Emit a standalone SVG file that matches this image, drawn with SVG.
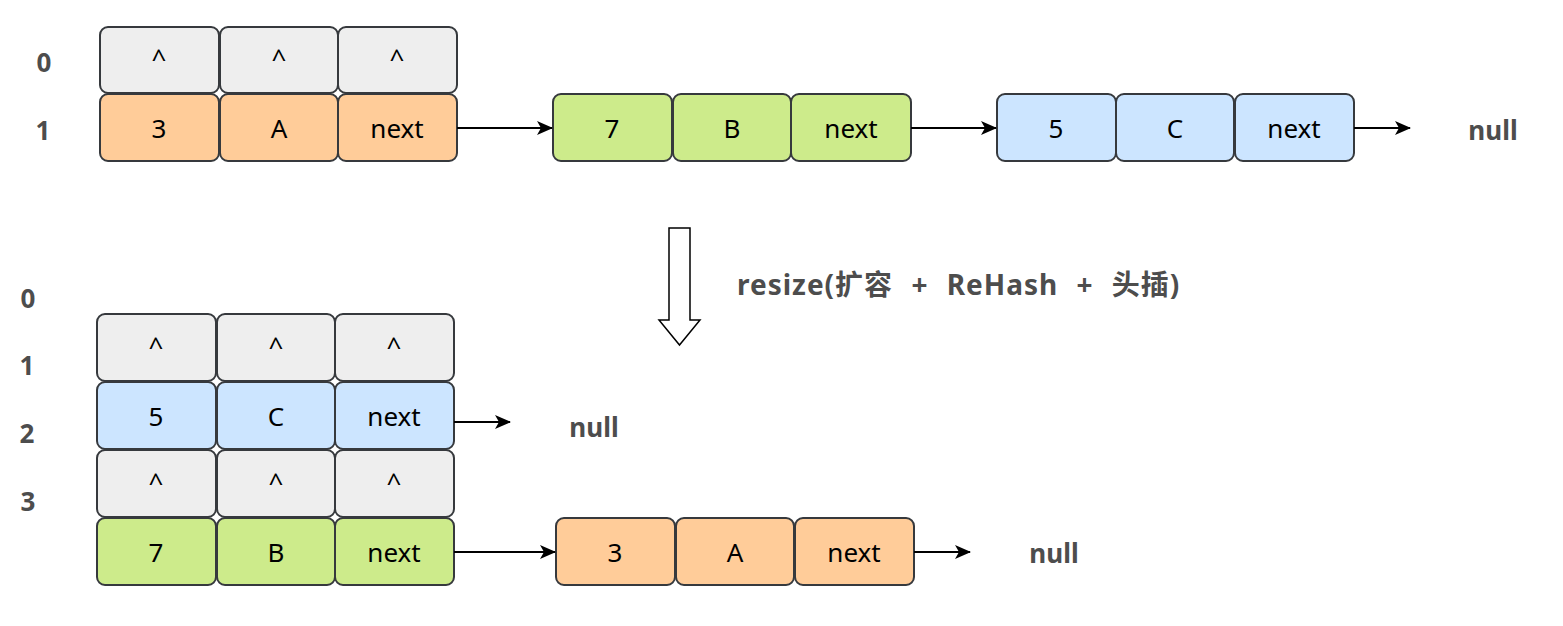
<svg xmlns="http://www.w3.org/2000/svg" width="1563" height="626" viewBox="0 0 1563 626">
<style>
.c{stroke:#36393d;stroke-width:2}
.g{fill:#eeeeee}.o{fill:#ffcc99}.gr{fill:#cdeb8b}.b{fill:#cce5ff}
.t{font-family:"Comic Sans MS","Noto Sans",sans-serif;font-size:26px;fill:#000;text-anchor:middle}
.l{font-family:"Noto Sans","Noto Sans CJK SC",sans-serif;font-weight:bold;font-size:26px;fill:#4d4d4d;text-anchor:middle}
.e{stroke:#000;stroke-width:2;fill:none}
</style>
<defs>
<marker id="ah" markerWidth="16" markerHeight="14" refX="15" refY="7" orient="auto" markerUnits="userSpaceOnUse">
<path d="M0,0 L16,7 L0,14 L4,7 Z" fill="#000"/>
</marker>
</defs>

<g id="labels-top">
<text class="l" x="44" y="72">0</text>
<text class="l" x="43" y="140">1</text>
</g>

<g id="top-row0">
<rect class="c g" x="100" y="27" width="119" height="66" rx="8"/>
<rect class="c g" x="220" y="27" width="118" height="66" rx="8"/>
<rect class="c g" x="338" y="27" width="119" height="66" rx="8"/>
<text class="t" x="159" y="68">^</text>
<text class="t" x="279" y="68">^</text>
<text class="t" x="397" y="68">^</text>
</g>
<g id="top-row1">
<rect class="c o" x="100" y="94" width="119" height="67" rx="8"/>
<rect class="c o" x="220" y="94" width="118" height="67" rx="8"/>
<rect class="c o" x="338" y="94" width="119" height="67" rx="8"/>
<text class="t" x="159" y="138">3</text>
<text class="t" x="279" y="138">A</text>
<text class="t" x="397" y="138">next</text>
</g>
<g id="top-node-7">
<rect class="c gr" x="553" y="94" width="119" height="67" rx="8"/>
<rect class="c gr" x="673" y="94" width="118" height="67" rx="8"/>
<rect class="c gr" x="791" y="94" width="120" height="67" rx="8"/>
<text class="t" x="612" y="138">7</text>
<text class="t" x="732" y="138">B</text>
<text class="t" x="851" y="138">next</text>
</g>
<g id="top-node-5">
<rect class="c b" x="997" y="94" width="119" height="67" rx="8"/>
<rect class="c b" x="1116" y="94" width="118" height="67" rx="8"/>
<rect class="c b" x="1235" y="94" width="119" height="67" rx="8"/>
<text class="t" x="1056" y="138">5</text>
<text class="t" x="1175" y="138">C</text>
<text class="t" x="1294" y="138">next</text>
</g>
<g id="top-null"><text class="l" x="1493" y="140">null</text></g>

<g id="resize-arrow">
<path d="M669,228 H690 V320 H700 L679.5,345 L659,320 H669 Z" fill="#fff" stroke="#000" stroke-width="1.5"/>
</g>
<g id="resize-label">
<text class="l" x="737" y="295" font-size="28" letter-spacing="1" word-spacing="10" style="text-anchor:start;font-size:28px">resize(扩容 + ReHash + 头插)</text>
</g>

<g id="labels-bottom">
<text class="l" x="28" y="308">0</text>
<text class="l" x="27" y="375">1</text>
<text class="l" x="27" y="443">2</text>
<text class="l" x="28" y="511">3</text>
</g>

<g id="bot-row1">
<rect class="c g" x="97" y="314" width="119" height="67" rx="8"/>
<rect class="c g" x="217" y="314" width="118" height="67" rx="8"/>
<rect class="c g" x="335" y="314" width="119" height="67" rx="8"/>
<text class="t" x="156" y="356">^</text>
<text class="t" x="276" y="356">^</text>
<text class="t" x="394" y="356">^</text>
</g>
<g id="bot-row2">
<rect class="c b" x="97" y="382" width="119" height="67" rx="8"/>
<rect class="c b" x="217" y="382" width="118" height="67" rx="8"/>
<rect class="c b" x="335" y="382" width="119" height="67" rx="8"/>
<text class="t" x="156" y="426">5</text>
<text class="t" x="276" y="426">C</text>
<text class="t" x="394" y="426">next</text>
</g>
<g id="bot-row3">
<rect class="c g" x="97" y="450" width="119" height="67" rx="8"/>
<rect class="c g" x="217" y="450" width="118" height="67" rx="8"/>
<rect class="c g" x="335" y="450" width="119" height="67" rx="8"/>
<text class="t" x="156" y="492">^</text>
<text class="t" x="276" y="492">^</text>
<text class="t" x="394" y="492">^</text>
</g>
<g id="bot-row4">
<rect class="c gr" x="97" y="518" width="119" height="67" rx="8"/>
<rect class="c gr" x="217" y="518" width="118" height="67" rx="8"/>
<rect class="c gr" x="335" y="518" width="119" height="67" rx="8"/>
<text class="t" x="156" y="562">7</text>
<text class="t" x="276" y="562">B</text>
<text class="t" x="394" y="562">next</text>
</g>
<g id="bot-node-3">
<rect class="c o" x="556" y="518" width="119" height="67" rx="8"/>
<rect class="c o" x="676" y="518" width="118" height="67" rx="8"/>
<rect class="c o" x="795" y="518" width="119" height="67" rx="8"/>
<text class="t" x="615" y="562">3</text>
<text class="t" x="735" y="562">A</text>
<text class="t" x="854" y="562">next</text>
</g>
<g id="bot-null-1"><text class="l" x="594" y="437">null</text></g>
<g id="bot-null-2"><text class="l" x="1054" y="563">null</text></g>

<g id="connectors">
<path class="e" d="M457,128 H552" marker-end="url(#ah)"/>
<path class="e" d="M911,128 H996" marker-end="url(#ah)"/>
<path class="e" d="M1354,128 H1410" marker-end="url(#ah)"/>
<path class="e" d="M454,422 H510" marker-end="url(#ah)"/>
<path class="e" d="M454,552 H555" marker-end="url(#ah)"/>
<path class="e" d="M914,552 H970" marker-end="url(#ah)"/>
</g>
</svg>
